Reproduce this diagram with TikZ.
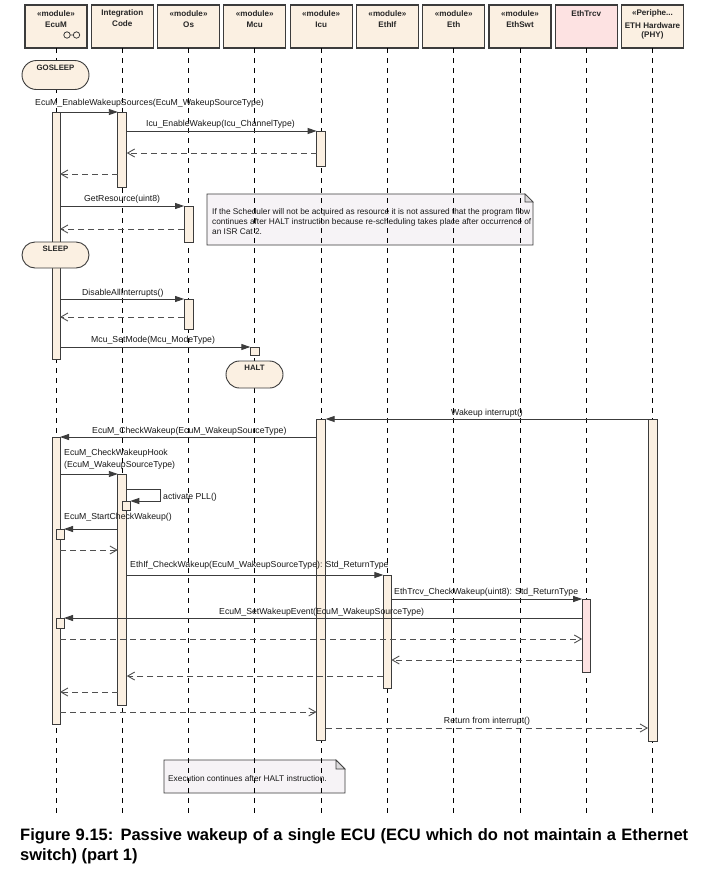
\documentclass[tikz,border=0pt]{standalone}
\usepackage{fontspec}
\setmainfont{Liberation Sans}
\usetikzlibrary{arrows.meta,calc,shapes.misc}
\definecolor{cream}{HTML}{FBF0E2}
\definecolor{pinkf}{HTML}{FDE2E2}
\definecolor{notef}{HTML}{F6F3F6}
\definecolor{foldf}{HTML}{DCDADC}
\definecolor{edge}{HTML}{3C3C3C}
\tikzset{
  hdr/.style={draw=edge, line width=1.1pt, fill=cream, minimum width=62pt, minimum height=43pt, inner sep=0pt, outer sep=0pt},
  hdrtxt/.style={font=\bfseries\fontsize{8.1}{9}\selectfont, inner sep=0pt, text=black!85},
  life/.style={draw=black, line width=0.8pt, dash pattern=on 5pt off 5pt},
  act/.style={draw=edge, line width=0.9pt, fill=cream, inner sep=0pt, outer sep=0pt},
  call/.style={draw=edge, line width=0.9pt, -{Triangle[length=9pt,width=6pt]}},
  ret/.style={draw=edge!90, line width=0.9pt, dash pattern=on 6pt off 4pt, -{Straight Barb[length=7pt,width=8pt]}},
  lbl/.style={font=\fontsize{8.7}{10}\selectfont, inner sep=0pt, text=black!90, text height=6.3pt, text depth=1.9pt},
  statebox/.style={draw=edge, line width=0.9pt, fill=cream, rounded rectangle, inner sep=0pt, outer sep=0pt},
  statetxt/.style={font=\bfseries\fontsize{7.8}{9}\selectfont, inner sep=0pt, text=black!85},
  notetxt/.style={font=\fontsize{8.3}{9.8}\selectfont, inner sep=0pt, align=left, text=black!90},
  captxt/.style={anchor=base west, inner sep=0pt, font=\bfseries\fontsize{16.5}{20}\selectfont},
}
\newcommand{\actbar}[6]{%
  \node[act, #6, minimum width=#5pt, minimum height={(#4-#3)*1pt}] (#1) at (#2,{(#3+#4)/2}) {};}
\begin{document}
\begin{tikzpicture}[x=1pt,y=-1pt]
\useasboundingbox (0,0) rectangle (707,871);
\fill[white] (0,0) rectangle (707,871);

% headers
\node[hdr] (hEcuM) at (56,26.5) {};
\node[hdr] (hIC) at (122.3,26.5) {};
\node[hdr] (hOs) at (188.6,26.5) {};
\node[hdr] (hMcu) at (254.8,26.5) {};
\node[hdr] (hIcu) at (321.1,26.5) {};
\node[hdr] (hEthIf) at (387.4,26.5) {};
\node[hdr] (hEth) at (453.7,26.5) {};
\node[hdr] (hEthSwt) at (520,26.5) {};
\node[hdr, fill=pinkf] (hTrcv) at (586.2,26.5) {};
\node[hdr] (hHW) at (652.5,26.5) {};

\node[hdrtxt] (tEcuM1) at (56,13.5) {«module»};
\node[hdrtxt] (tEcuM2) at (56,25) {EcuM};
\node[hdrtxt] (tIC1) at (122.3,13) {Integration};
\node[hdrtxt] (tIC2) at (122.3,24) {Code};
\node[hdrtxt] (tOs1) at (188.6,13.5) {«module»};
\node[hdrtxt] (tOs2) at (188.6,25) {Os};
\node[hdrtxt] (tMcu1) at (254.8,13.5) {«module»};
\node[hdrtxt] (tMcu2) at (254.8,25) {Mcu};
\node[hdrtxt] (tIcu1) at (321.1,13.5) {«module»};
\node[hdrtxt] (tIcu2) at (321.1,25) {Icu};
\node[hdrtxt] (tEthIf1) at (387.4,13.5) {«module»};
\node[hdrtxt] (tEthIf2) at (387.4,25) {EthIf};
\node[hdrtxt] (tEth1) at (453.7,13.5) {«module»};
\node[hdrtxt] (tEth2) at (453.7,25) {Eth};
\node[hdrtxt] (tSwt1) at (520,13.5) {«module»};
\node[hdrtxt] (tSwt2) at (520,25) {EthSwt};
\node[hdrtxt] (tTrcv) at (586.2,13.5) {EthTrcv};
\node[hdrtxt] (tHW1) at (652.5,13.5) {«Periphe...};
\node[hdrtxt] (tHW2) at (652.5,25.5) {ETH Hardware};
\node[hdrtxt] (tHW3) at (652.5,35.5) {(PHY)};
% EcuM composite icon
\draw[edge, line width=0.8pt] (67,35) circle (3.2pt) (76.5,35) circle (3.2pt) (70.2,35) -- (73.3,35);

% notes (behind lifelines)
\draw[edge, line width=0.9pt, fill=notef] (207,194) -- (525,194) -- (533,202) -- (533,245) -- (207,245) -- cycle;
\draw[edge, line width=0.7pt, fill=foldf] (525,194) -- (525,202) -- (533,202) -- cycle;
\node[notetxt, anchor=north west] (note1) at (212,208.5) {If the Scheduler will not be acquired as resource it is not assured that the program flow\\continues after HALT instruction because re-scheduling takes place after occurrence of\\an ISR Cat 2.};
\draw[edge, line width=0.9pt, fill=notef] (164,760) -- (336,760) -- (345,769) -- (345,793) -- (164,793) -- cycle;
\draw[edge, line width=0.7pt, fill=foldf] (336,760) -- (336,769) -- (345,769) -- cycle;
\node[notetxt, anchor=west] (note2) at (168,779) {Execution continues after HALT instruction.};

% lifelines
\foreach \h in {hEcuM,hIC,hOs,hMcu,hIcu,hEthIf,hEth,hEthSwt,hTrcv,hHW}{
  \coordinate (\h-end) at ($(\h.south)+(0,769)$);
  \draw[life] (\h.south) -- (\h-end);
}

% activation bars
\actbar{ecum1}{56}{112}{359}{8}{}
\actbar{ic1}{122.3}{112}{187}{9}{}
\actbar{icu1}{321.1}{131}{166}{9}{}
\actbar{os1}{188.6}{206}{242}{9}{}
\actbar{os2}{188.6}{299}{329}{9}{}
\actbar{mcu1}{254.8}{347}{355}{9}{}
\actbar{icu2}{321.1}{419}{740}{9}{}
\actbar{hw1}{652.5}{419}{741}{9}{}
\actbar{ecum2}{56}{437}{724}{8}{}
\actbar{ic2}{122.3}{474}{705}{9}{}
\actbar{ic2n}{126.3}{501}{510}{8}{}
\actbar{ecumn1}{60}{529}{539}{8}{}
\actbar{ethif1}{387.4}{575}{688}{8}{}
\actbar{trcv1}{586.2}{599}{672}{8}{fill=pinkf}
\actbar{ecumn2}{60}{618}{628}{8}{}

% states
\node[statebox, minimum width=67pt, minimum height=29pt] (sGo) at (55.5,75) {};
\node[statetxt] (sGoT) at (55.5,68) {GOSLEEP};
\node[statebox, minimum width=67pt, minimum height=26pt] (sSleep) at (55.5,255) {};
\node[statetxt] (sSleepT) at (55.5,249) {SLEEP};
\node[statebox, minimum width=57pt, minimum height=27pt] (sHalt) at (254.5,374.5) {};
\node[statetxt] (sHaltT) at (254.5,368) {HALT};

% messages
\draw[call] (ecum1.east |- 0,112) -- (ic1.west |- 0,112);
\node[lbl, anchor=west] (l1) at (35,103) {EcuM\_EnableWakeupSources(EcuM\_WakeupSourceType)};
\draw[call] (ic1.east |- 0,131) -- (icu1.west |- 0,131);
\node[lbl, anchor=west] (l2) at (146,124) {Icu\_EnableWakeup(Icu\_ChannelType)};
\draw[ret] (icu1.west |- 0,153) -- (ic1.east |- 0,153);
\draw[ret] (ic1.west |- 0,174) -- (ecum1.east |- 0,174);

\draw[call] (ecum1.east |- 0,206) -- (os1.west |- 0,206);
\node[lbl, anchor=west] (l5) at (84,199) {GetResource(uint8)};
\draw[ret] (os1.west |- 0,229) -- (ecum1.east |- 0,229);

\draw[call] (ecum1.east |- 0,299) -- (os2.west |- 0,299);
\node[lbl, anchor=west] (l7) at (82,293) {DisableAllInterrupts()};
\draw[ret] (os2.west |- 0,317) -- (ecum1.east |- 0,317);

\draw[call] (ecum1.east |- 0,347) -- (mcu1.west |- 0,347);
\node[lbl, anchor=west] (l9) at (91,340) {Mcu\_SetMode(Mcu\_ModeType)};

\draw[call] (hw1.west |- 0,419) -- (icu2.east |- 0,419);
\node[lbl] (l10) at (487,413) {Wakeup interrupt()};
\draw[call] (icu2.west |- 0,437) -- (ecum2.east |- 0,437);
\node[lbl, anchor=west] (l11) at (92,431) {EcuM\_CheckWakeup(EcuM\_WakeupSourceType)};
\draw[call] (ecum2.east |- 0,474) -- (ic2.west |- 0,474);
\node[lbl, anchor=west] (l12a) at (64,453) {EcuM\_CheckWakeupHook};
\node[lbl, anchor=west] (l12b) at (64,465) {(EcuM\_WakeupSourceType)};
\coordinate (pll1) at (160,489);
\coordinate (pll2) at (160,501);
\draw[call] (ic2.east |- pll1) -- (pll1) -- (pll2) -- (ic2n.east |- pll2);
\node[lbl, anchor=west] (l13) at (163,497) {activate PLL()};
\draw[call] (ic2.west |- 0,529) -- (ecumn1.east |- 0,529);
\node[lbl, anchor=west] (l14) at (64,517) {EcuM\_StartCheckWakeup()};
\draw[ret] (ecum2.east |- 0,550) -- (ic2.west |- 0,550);

\draw[call] (ic2.east |- 0,575) -- (ethif1.west |- 0,575);
\node[lbl, anchor=west] (l16) at (130,565) {EthIf\_CheckWakeup(EcuM\_WakeupSourceType): Std\_ReturnType};
\draw[call] (ethif1.east |- 0,599) -- (trcv1.west |- 0,599);
\node[lbl, anchor=west] (l17) at (394,592) {EthTrcv\_CheckWakeup(uint8): Std\_ReturnType};
\draw[call] (trcv1.west |- 0,618) -- (ecumn2.east |- 0,618);
\node[lbl, anchor=west] (l18) at (219,612) {EcuM\_SetWakeupEvent(EcuM\_WakeupSourceType)};
\draw[ret] (ecum2.east |- 0,639) -- (trcv1.west |- 0,639);
\draw[ret] (trcv1.west |- 0,660) -- (ethif1.east |- 0,660);
\draw[ret] (ethif1.west |- 0,676) -- (ic2.east |- 0,676);
\draw[ret] (ic2.west |- 0,692) -- (ecum2.east |- 0,692);
\draw[ret] (ecum2.east |- 0,712) -- (icu2.west |- 0,712);
\draw[ret] (icu2.east |- 0,728) -- (hw1.west |- 0,728);
\node[lbl] (l24) at (487,721) {Return from interrupt()};

% caption
\node[captxt] (cap1) at (20,840) {\makebox[668pt][s]{Figure 9.15: Passive wakeup of a single ECU (ECU which do not maintain a Ethernet}};
\node[captxt] (cap2) at (20,860) {switch) (part 1)};
\end{tikzpicture}
\end{document}
